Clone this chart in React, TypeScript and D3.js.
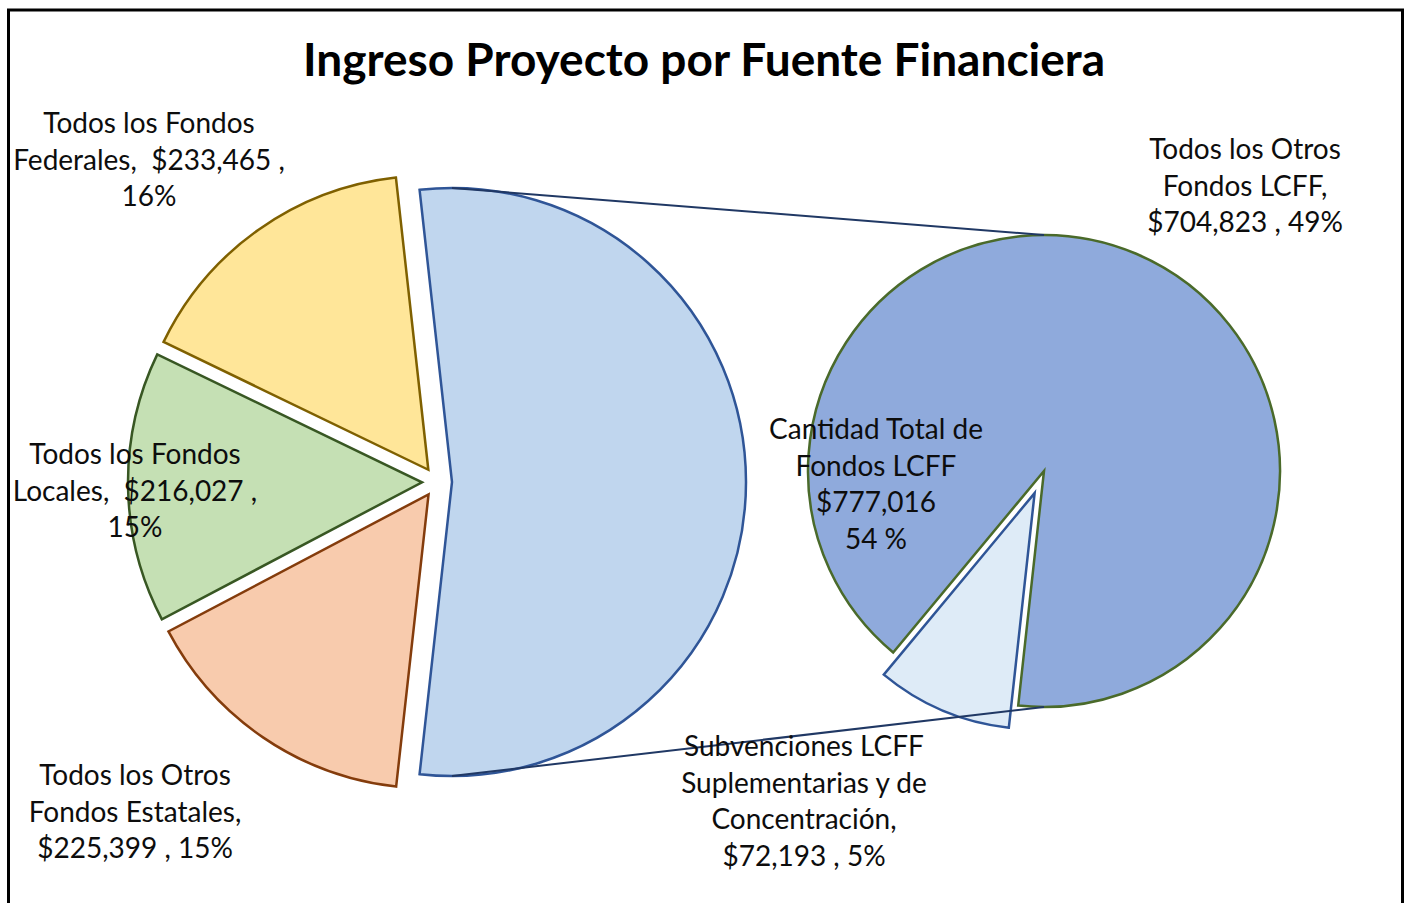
import React from "react";
import * as d3 from "d3";

const title = "Ingreso Proyecto por Fuente Financiera";

// main pie (order clockwise starting at the split slice)
const mainCategories = ["LCFF", "Estatales", "Locales", "Federales"];
const mainValues = [777016, 225399, 216027, 233465];
const mainFills = ["#c0d6ee", "#f8cbad", "#c5e0b4", "#ffe699"];
const mainStrokes = ["#2f5597", "#843c0c", "#385723", "#7f6000"];

// secondary pie
const secCategories = ["Otros LCFF", "Subvenciones"];
const secValues = [704823, 72193];
const secFills = ["#8faadc", "#deebf7"];
const secStrokes = ["#4a6a2a", "#2f5597"];

// labels
const labelLines = [
  ["Todos los Fondos", "Federales,  $233,465 ,", "16%"],
  ["Todos los Fondos", "Locales,  $216,027 ,", "15%"],
  ["Todos los Otros", "Fondos Estatales,", "$225,399 , 15%"],
  ["Cantidad Total de", "Fondos LCFF", "$777,016", "54 %"],
  ["Todos los Otros", "Fondos LCFF,", "$704,823 , 49%"],
  ["Subvenciones LCFF", "Suplementarias y de", "Concentración,", "$72,193 , 5%"],
];
const labelPos = [
  [149, 122],
  [135, 453],
  [135, 774],
  [876, 428],
  [1245, 148],
  [804, 745],
];

const W = 1409;
const H = 903;

export default function App() {
  const mainC: [number, number] = [437, 482];
  const mainR = 294;
  const explodeMain = 15;
  const lcffFrac = mainValues[0] / d3.sum(mainValues);
  const mainStart = Math.PI / 2 - lcffFrac * Math.PI;
  const mainPie = d3
    .pie<number>()
    .sort(null)
    .startAngle(mainStart)
    .endAngle(mainStart + 2 * Math.PI);
  const mainArcs = mainPie(mainValues);
  const arcMain = d3.arc<d3.PieArcDatum<number>>().innerRadius(0).outerRadius(mainR);

  const secC: [number, number] = [1044, 471];
  const secR = 236;
  const explodeSec = 24;
  const subFrac = secValues[1] / d3.sum(secValues);
  const subMid = (203 * Math.PI) / 180;
  const secStart = subMid + subFrac * Math.PI;
  const secPie = d3
    .pie<number>()
    .sort(null)
    .startAngle(secStart)
    .endAngle(secStart + 2 * Math.PI);
  const secArcs = secPie(secValues);
  const arcSec = d3.arc<d3.PieArcDatum<number>>().innerRadius(0).outerRadius(secR);

  const off = (a: d3.PieArcDatum<number>, d: number) => {
    const m = (a.startAngle + a.endAngle) / 2;
    return [Math.sin(m) * d, -Math.cos(m) * d];
  };

  const lcffOff = off(mainArcs[0], explodeMain);
  const lcffApex = [mainC[0] + lcffOff[0], mainC[1] + lcffOff[1]];

  return (
    <svg
      width={W}
      height={H}
      style={{ position: "absolute", left: 0, top: 0, display: "block", background: "#fff" }}
      fontFamily="Lato, 'Open Sans', sans-serif"
    >
      <rect x={8.5} y={10} width={1394} height={894.5} fill="#fff" stroke="#000" strokeWidth={3} />
      <text
        x={704}
        y={76}
        textAnchor="middle"
        fontSize={46}
        fontWeight="bold"
        fill="#000"
      >
        {title}
      </text>

      {mainArcs.map((a, i) => {
        const [dx, dy] = off(a, explodeMain);
        return (
          <path
            key={mainCategories[i]}
            d={arcMain(a) || ""}
            transform={`translate(${mainC[0] + dx},${mainC[1] + dy})`}
            fill={mainFills[i]}
            stroke={mainStrokes[i]}
            strokeWidth={2.5}
            strokeLinejoin="miter"
          />
        );
      })}

      {secArcs.map((a, i) => {
        const [dx, dy] = i === 1 ? off(a, explodeSec) : [0, 0];
        return (
          <path
            key={secCategories[i]}
            d={arcSec(a) || ""}
            transform={`translate(${secC[0] + dx},${secC[1] + dy})`}
            fill={secFills[i]}
            stroke={secStrokes[i]}
            strokeWidth={2.5}
          />
        );
      })}

      <line
        x1={lcffApex[0]}
        y1={lcffApex[1] - mainR}
        x2={secC[0]}
        y2={secC[1] - secR}
        stroke="#203864"
        strokeWidth={2}
      />
      <line
        x1={lcffApex[0]}
        y1={lcffApex[1] + mainR}
        x2={secC[0]}
        y2={secC[1] + secR}
        stroke="#203864"
        strokeWidth={2}
      />

      {labelLines.map((lines, i) => (
        <text
          key={i}
          x={labelPos[i][0]}
          y={labelPos[i][1]}
          textAnchor="middle"
          fontSize={28}
          fill="#0d0d0d"
          style={{ whiteSpace: "pre" }}
        >
          {lines.map((t, j) => (
            <tspan key={j} x={labelPos[i][0]} y={labelPos[i][1] + j * 36.7} dominantBaseline="central">
              {t}
            </tspan>
          ))}
        </text>
      ))}
    </svg>
  );
}
